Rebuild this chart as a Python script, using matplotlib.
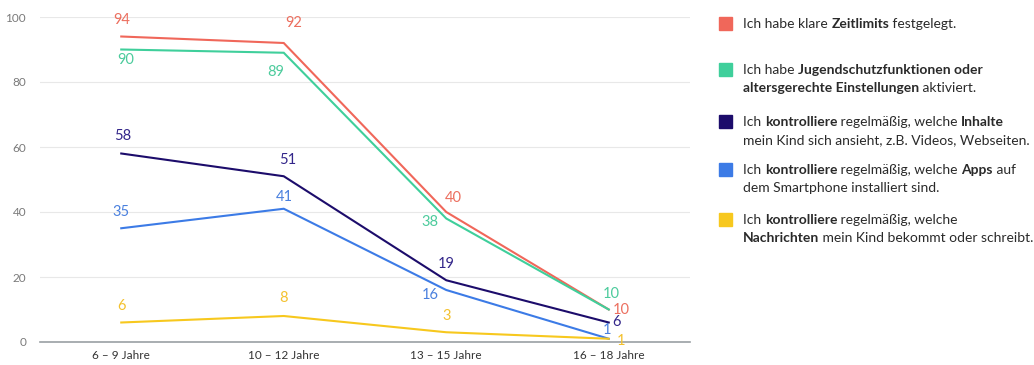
import matplotlib.pyplot as plt
from matplotlib.patches import Rectangle

plt.rcParams['font.family'] = ['Lato', 'DejaVu Sans']

# Altersgruppen und Anteile in Prozent
altersgruppen = ['6 – 9 Jahre', '10 – 12 Jahre', '13 – 15 Jahre', '16 – 18 Jahre']
zeitlimits = [94, 92, 40, 10]
jugendschutz = [90, 89, 38, 10]
inhalte = [58, 51, 19, 6]
apps = [35, 41, 16, 1]
nachrichten = [6, 8, 3, 1]

linien_farben = ['#f0675a', '#3fcf9b', '#1c0c6b', '#3c7be6', '#f7c81e']
label_farben = ['#ec6f5f', '#4ccb9c', '#33268a', '#4a80de', '#f3c12f']

# Versatz der Wertebeschriftungen in Pixeln (dx, dy) je Punkt
label_versatz = [
    [(0, 17), (10, 20), (7, 14), (12, 0)],
    [(4, -11), (-8, -19), (-16, -4), (3, 16)],
    [(1, 18), (4, 16), (0, 16), (8, 1)],
    [(0, 16), (1, 12), (-16, -5), (-2, 9)],
    [(0, 17), (0, 18), (0, 16), (12, -2)],
]

# Legendentexte als Teile: (Text, fett?)
legende = [
    [[('Ich habe klare ', False), ('Zeitlimits', True), (' festgelegt.', False)]],
    [[('Ich habe ', False), ('Jugendschutzfunktionen oder', True)],
     [('altersgerechte Einstellungen', True), (' aktiviert.', False)]],
    [[('Ich ', False), ('kontrolliere', True), (' regelmäßig, welche ', False), ('Inhalte', True)],
     [('mein Kind sich ansieht, z.B. Videos, Webseiten.', False)]],
    [[('Ich ', False), ('kontrolliere', True), (' regelmäßig, welche ', False), ('Apps', True), (' auf', False)],
     [('dem Smartphone installiert sind.', False)]],
    [[('Ich ', False), ('kontrolliere', True), (' regelmäßig, welche', False)],
     [('Nachrichten', True), (' mein Kind bekommt oder schreibt.', False)]],
]
legende_y = [24, 70, 122, 170, 220]

reihen = [zeitlimits, jugendschutz, inhalte, apps, nachrichten]

fig = plt.figure(figsize=(10.34, 3.65), dpi=100)
W, H = 1034, 365
ax = fig.add_axes([40 / W, 23 / H, 650 / W, 325 / H])

x = list(range(len(altersgruppen)))
for werte, farbe, lfarbe, versatz in zip(reihen, linien_farben, label_farben, label_versatz):
    ax.plot(x, werte, color=farbe, lw=1.5, solid_joinstyle='miter', zorder=3)
    for xi, v, (dx, dy) in zip(x, werte, versatz):
        ax.annotate(str(v), (xi, v), xytext=(dx, dy), textcoords='offset pixels',
                    ha='center', va='center', color=lfarbe, fontsize=10.5)

ax.set_xlim(-0.5, 3.5)
ax.set_ylim(0, 100)
ax.set_yticks([0, 20, 40, 60, 80, 100])
ax.set_xticks(x)
ax.set_xticklabels(altersgruppen, fontsize=8.5, color='#333333')
ax.tick_params(axis='y', labelsize=8.5, labelcolor='#7a7a7a', length=0, pad=10)
ax.tick_params(axis='x', length=0, pad=6)
ax.grid(axis='y', color='#e8e8e8', lw=0.8)
ax.set_axisbelow(True)
for s in ['top', 'right', 'left']:
    ax.spines[s].set_visible(False)
ax.spines['bottom'].set_color('#9aa0a4')
ax.spines['bottom'].set_linewidth(1.2)

# Legende: Farbfelder und Textzeilen, fette Teile hintereinander gesetzt
fig.canvas.draw()
renderer = fig.canvas.get_renderer()
for eintrag, farbe, y0 in zip(legende, linien_farben, legende_y):
    fig.patches.append(Rectangle((719 / W, 1 - (y0 + 6) / H), 13 / W, 13 / H,
                                 transform=fig.transFigure, color=farbe))
    for z, zeile in enumerate(eintrag):
        yz = 1 - (y0 + z * 18) / H
        xpos = 743
        for teil, fett in zeile:
            t = fig.text(xpos / W, yz, teil, fontsize=10,
                         fontweight='bold' if fett else 'normal',
                         color='#2a2a2a', ha='left', va='center')
            xpos += t.get_window_extent(renderer).width

fig.savefig('out.png', dpi=100)
